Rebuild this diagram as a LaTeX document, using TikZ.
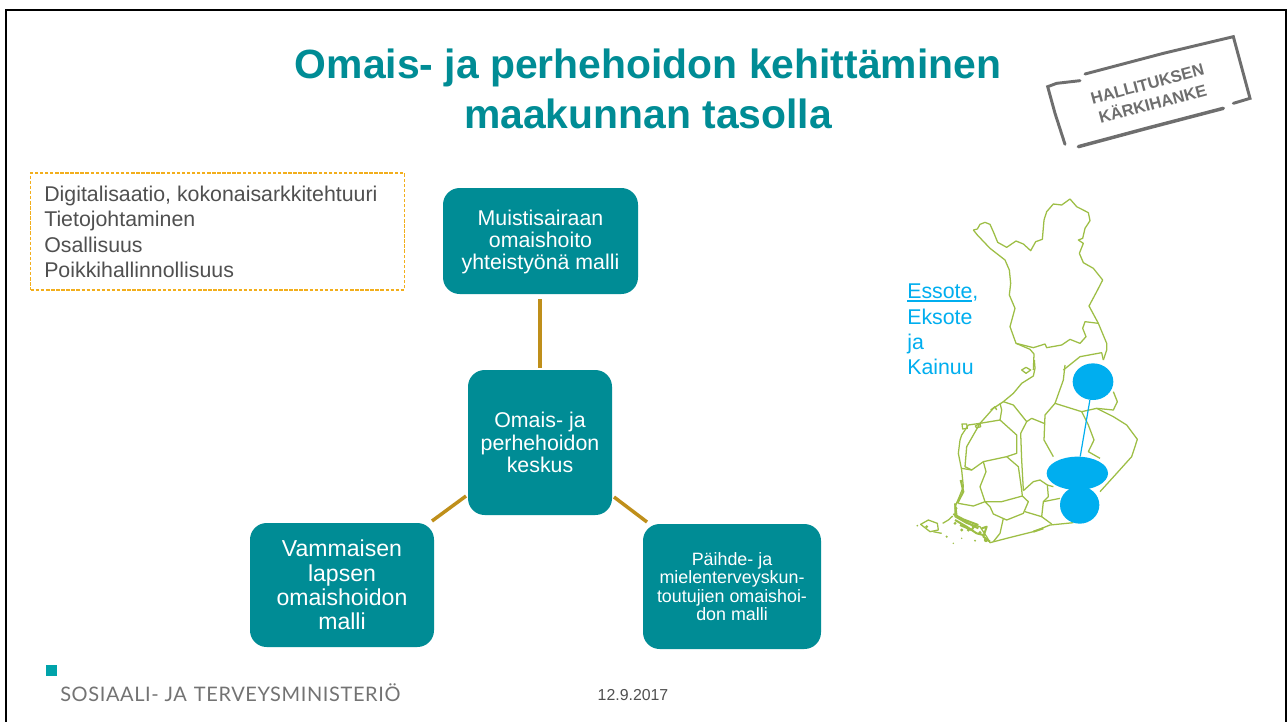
\documentclass[tikz,border=0pt]{standalone}
\usepackage{fontspec}
\usetikzlibrary{shapes.geometric}
\setmainfont{Liberation Sans}
\newfontfamily\logofont[LetterSpace=3]{Lato}
\definecolor{teal1}{HTML}{008C95}
\definecolor{gold1}{HTML}{BF8F1A}
\definecolor{sky1}{HTML}{00AEEF}
\definecolor{map1}{HTML}{9DBE45}
\definecolor{stampgray}{HTML}{6E6E6E}
\definecolor{txt1}{HTML}{505050}
\definecolor{dash1}{HTML}{F2AE1C}
\tikzset{
 box/.style={fill=teal1,rounded corners=12.5pt,text=white,align=center,inner sep=0pt},
 link/.style={draw=gold1,line width=2.6pt},
 border/.style={map1,line width=.95pt,line join=round},
 islet/.style={map1,line width=1.5pt,line join=round},
 stampline/.style={stampgray,line width=2pt,line cap=round},
 blob/.style={fill=sky1,draw=none,ellipse,inner sep=0pt},
}
\begin{document}
\begin{tikzpicture}[x=.75pt,y=-.75pt]
\useasboundingbox (0,0) rectangle (1287,722);
\fill[white] (0,0) rectangle (1287,722);
\fill[black] (5,9) rectangle (1287,11);
\fill[black] (5,9) rectangle (7,722);
\fill[black] (1285,9) rectangle (1287,722);

\node[text=teal1,font=\bfseries\fontsize{30.65pt}{37.5pt}\selectfont,align=center,anchor=center] (title) at (648,88.5) {Omais- ja perhehoidon kehittäminen\\maakunnan tasolla};

% info box
\node[draw=dash1,dash pattern=on 2.6pt off 1.2pt,line width=.95pt,minimum width=280pt,minimum height=87.75pt,inner sep=0pt] (info) at (217.5,231.5) {};
\node[text=txt1,font=\fontsize{16pt}{19.1pt}\selectfont,align=left,anchor=west,inner sep=0pt] (infotext) at (44,232) {Digitalisaatio, kokonaisarkkitehtuuri\\Tietojohtaminen\\Osallisuus\\Poikkihallinnollisuus};

% boxes
\node[box,minimum width=146.25pt,minimum height=79.5pt,font=\fontsize{16pt}{16.8pt}\selectfont] (top) at (540.5,241) {};
\node[text=white,align=center,inner sep=0pt,font=\fontsize{16pt}{16.8pt}\selectfont] (toptext) at (540.5,242) {Muistisairaan\\omaishoito\\yhteistyönä malli};
\node[box,minimum width=108pt,minimum height=108.75pt,font=\fontsize{16pt}{17pt}\selectfont] (mid) at (540,442.5) {Omais- ja\\perhehoidon\\keskus};
\node[box,minimum width=138pt,minimum height=93pt,font=\fontsize{17.3pt}{18.2pt}\selectfont] (left) at (342,585) {Vammaisen\\lapsen\\omaishoidon\\malli};
\node[box,minimum width=133.5pt,minimum height=93.75pt,font=\fontsize{13.4pt}{13.9pt}\selectfont] (right) at (732,586.5) {Päihde- ja\\mielenterveyskun-\\toutujien omaishoi-\\don malli};

\coordinate (topgap) at (540,299);
\coordinate (midgap) at (540,368);
\coordinate (lgapa) at (466,496);
\coordinate (lgapb) at (432,521);
\coordinate (rgapa) at (614,497);
\coordinate (rgapb) at (647,522);
\draw[link] (topgap) -- (midgap);
\draw[link] (lgapa) -- (lgapb);
\draw[link] (rgapa) -- (rgapb);

% label
\node[text=sky1,font=\fontsize{16pt}{19pt}\selectfont,align=left,anchor=north west,inner sep=0pt] (regions) at (907,284) {Essote,\\Eksote\\ja\\Kainuu};
\draw[sky1,line width=.8pt] (907,301) -- (972,301);

% map, north part traced in 3x crop coordinates
\begin{scope}[shift={(890,180)},x=.25pt,y=-.25pt]
\draw[border] (250,150)--(262,147)--(270,133)--(285,127)--(300,133)--(312,160)--(323,187)--(350,202)--(378,183)--(400,192)--(422,212)--(437,185)--(457,178)--(462,120)--(470,95)--(490,72)--(515,75)--(540,57)--(560,80)--(595,98)--(600,122)--(585,145)--(578,175)--(565,180)--(580,190)--(568,220)--(580,248)--(610,265)--(638,300)--(620,335)--(597,378)--(625,430)--(650,490)--(650,510)--(640,540);
\draw[border] (625,430)--(585,425)--(578,445)--(588,470)--(570,490)--(540,478)--(515,495)--(470,503)--(465,492)--(430,503)--(378,490)--(360,440)--(375,385)--(358,345)--(362,310)--(358,270)--(345,240)--(300,205)--(262,165)--(250,150);
\draw[border] (378,490)--(420,508)--(432,522)--(430,570);
\draw[border] (520,570)--(570,530)--(635,518)--(640,540);
\end{scope}
% map, south part
\begin{scope}[shift={(900,360)},x=.25pt,y=-.25pt]
\draw[border] (403,0)--(405,25)--(400,48)--(365,70)--(340,100)--(310,125)--(280,145)--(240,190)--(205,195)--(185,225)--(180,240)--(175,280)--(185,330)--(190,380)--(178,410)--(165,440)--(165,470)--(200,490)--(240,500)--(260,530)--(270,548)--(320,535)--(400,515)--(450,495)--(520,488);
\draw[border] (365,30)--(378,22)--(392,30)--(378,40)--cycle;
\draw[border] (490,60)--(465,130)--(545,155)--(590,145)--(640,150)--(652,125)--(640,95);
\draw[border] (495,15)--(490,60);
\draw[border] (590,145)--(640,170)--(680,195)--(712,238)--(695,290)--(650,340)--(600,395);
\draw[border] (465,130)--(435,165)--(432,240)--(460,290);
\draw[border] (545,155)--(565,195)--(582,240)--(565,275)--(600,295);
\draw[border] (310,125)--(340,135)--(380,185)--(362,220)--(365,300)--(370,390);
\draw[border] (380,185)--(395,175)--(432,190);
\draw[border] (300,130)--(305,150)--(300,180);
\draw[border] (200,260)--(240,190)--(300,180)--(350,225)--(350,280)--(320,290)--(250,305)--(215,330)--(195,320)--cycle;
\draw[border] (320,290)--(355,320)--(365,390)--(367,408);
\draw[border] (250,305)--(258,335)--(240,380)--(255,425)--(305,425)--(367,408)--(385,425)--(370,460)--(320,480)--(280,462)--(270,440)--(255,425);
\draw[border] (185,325)--(215,330);
\draw[border] (175,430)--(220,438)--(255,425);
\draw[border] (370,392)--(400,365)--(420,360)--(442,375)--(445,410)--(430,425)--(425,470)--(375,455);
\draw[border] (442,375)--(460,380); \draw[border] (430,425)--(480,415);
\draw[border] (425,470)--(455,492);
\draw[border] (310,475)--(300,520)--(280,545);
\draw[border] (186,192)--(200,192)--(202,205)--(188,207)--cycle;
\draw[border] (226,198)--(240,190)--(242,200)--(230,204)--cycle;
\draw[border] (272,150)--(285,140)--(290,150);
% archipelago
\draw[islet] (165,430)--(170,470)--(205,490)--(235,505);
\draw[islet] (165,480)--(200,500)--(230,520)--(250,525);
\draw[islet] (245,505)--(260,500)--(250,530)--(270,545);
\draw[islet] (180,495)--(215,510)--(225,495);
\draw[islet] (182,360)--(190,395)--(172,430);
\draw[islet] (160,462)--(190,478)--(235,495);
\draw[islet] (400,515)--(430,505);
\draw[border] (62,493)--(85,480)--(112,490)--(115,510)--(90,515)--cycle;
\draw[border] (100,515)--(125,520);
\draw[border] (128,490)--(145,480)--(158,468);
\fill[map1] (52,497) circle (.7pt) (140,530) circle (.9pt) (160,550) circle (.6pt) (185,535) circle (.6pt) (225,542) circle (.8pt) (165,490) circle (1.2pt) (205,510) circle (1.3pt) (240,518) circle (1.3pt) (258,540) circle (1.6pt) (80,500) circle (1.2pt) (185,510) circle (1.2pt) (220,500) circle (1.2pt) (168,445) circle (1.2pt);
% areas
\node[blob,minimum width=30.5pt,minimum height=27.5pt] (e1) at (579,65) {};
\node[blob,minimum width=46pt,minimum height=25pt] (e2) at (532,340) {};
\node[blob,minimum width=29.5pt,minimum height=28pt] (e3) at (539,435) {};
\draw[sky1,line width=.9pt] (e1) -- (e2);
\end{scope}

% stamp
\begin{scope}[shift={(1030,20)},x=.25pt,y=-.25pt]
\draw[stampline,line width=2.2pt] (150,182)--(80,190)--(53,200)--(75,280)--(105,373);
\draw[stampline,line width=2.2pt] (165,162)--(400,100)--(610,50)--(660,235)--(610,250);
\draw[stampline,line width=2.6pt] (145,380)--(350,325)--(580,265);
\node[stampgray,font=\bfseries\fontsize{12.4pt}{15.5pt}\selectfont,rotate=15,align=center,inner sep=0pt] (stamp) at (360,222) {HALLITUKSEN\\KÄRKIHANKE};
\end{scope}

% footer
\fill[teal1!80!cyan] (46,665) rectangle (57,676);
\node[text=black!55,font=\logofont\fontsize{15pt}{16pt}\selectfont,anchor=west,inner sep=0pt] (ministry) at (60,693) {SOSIAALI- JA\hspace{.35em}TERVEYSMINISTERIÖ};
\node[text=txt1,font=\fontsize{11.9pt}{13pt}\selectfont,inner sep=0pt] (date) at (633,695) {12.9.2017};
\end{tikzpicture}
\end{document}
